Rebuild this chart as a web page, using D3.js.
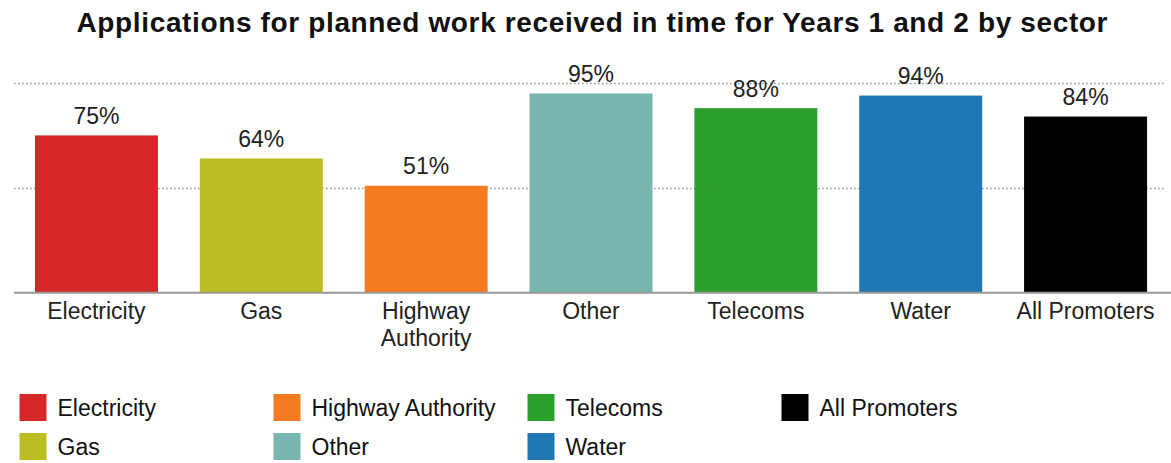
<!DOCTYPE html>
<html>
<head>
<meta charset="utf-8">
<script src="https://cdn.jsdelivr.net/npm/d3@7/dist/d3.min.js"></script>
<style>
  html, body { margin: 0; padding: 0; background: #fff; }
  svg { display: block; font-family: "Liberation Sans", Arial, sans-serif; }
</style>
</head>
<body>
<div id="chart"></div>
<script>
// Sectors and share of planned-work applications received in time (%)
const categories = ["Electricity", "Gas", "Highway Authority", "Other", "Telecoms", "Water", "All Promoters"];
const axisLabels = [["Electricity"], ["Gas"], ["Highway", "Authority"], ["Other"], ["Telecoms"], ["Water"], ["All Promoters"]];
const values = [75, 64, 51, 95, 88, 94, 84];
const colors = ["#d62728", "#bcbd22", "#f47b20", "#78b6af", "#2ca02c", "#1f77b4", "#000000"];
const gridTicks = [50, 100];
const legendColumns = [["Electricity", "Gas"], ["Highway Authority", "Other"], ["Telecoms", "Water"], ["All Promoters"]];

const W = 1171, H = 463;
const svg = d3.select("#chart").append("svg").attr("width", W).attr("height", H);

const x = d3.scaleBand().domain(categories).range([14, 1168]).paddingInner(0.254).paddingOuter(0.127);
const y = d3.scaleLinear().domain([0, 100]).range([292.7, 83]);
const color = d3.scaleOrdinal().domain(categories).range(colors);

// Title
svg.append("text")
  .attr("x", 592).attr("y", 31.5)
  .attr("text-anchor", "middle")
  .attr("font-size", 28).attr("font-weight", "bold").attr("fill", "#111")
  .attr("textLength", 1031).attr("lengthAdjust", "spacing")
  .text("Applications for planned work received in time for Years 1 and 2 by sector");

// Dotted gridlines
svg.append("g").selectAll("line").data(gridTicks).join("line")
  .attr("x1", 14).attr("x2", 1165)
  .attr("y1", d => Math.round(y(d)) + 0.5).attr("y2", d => Math.round(y(d)) + 0.5)
  .attr("stroke", "#999").attr("stroke-width", 1.6).attr("stroke-dasharray", "1.6,2.4");

// Bars
svg.append("g").selectAll("rect").data(categories).join("rect")
  .attr("x", d => x(d)).attr("width", x.bandwidth())
  .attr("y", (d, i) => y(values[i]))
  .attr("height", (d, i) => y(0) - y(values[i]))
  .attr("fill", d => color(d));

// Value labels
svg.append("g").selectAll("text").data(categories).join("text")
  .attr("x", d => x(d) + x.bandwidth() / 2)
  .attr("y", (d, i) => y(values[i]) - 11.5)
  .attr("text-anchor", "middle").attr("font-size", 23).attr("fill", "#222")
  .text((d, i) => values[i] + "%");

// Baseline axis
const xAxis = d3.axisBottom(x).tickSize(0).tickPadding(0).tickFormat(() => "");
const axisG = svg.append("g").attr("transform", `translate(0,${y(0)})`).call(xAxis);
axisG.select(".domain").attr("d", `M14,0H1171`).attr("stroke", "#999").attr("stroke-width", 2);

// Category labels (multi-line)
const catG = svg.append("g").selectAll("text").data(categories).join("text")
  .attr("x", d => x(d) + x.bandwidth() / 2)
  .attr("y", 319)
  .attr("text-anchor", "middle").attr("font-size", 23).attr("fill", "#222");
catG.each(function(d, i) {
  d3.select(this).selectAll("tspan").data(axisLabels[i]).join("tspan")
    .attr("x", x(d) + x.bandwidth() / 2)
    .attr("dy", (t, j) => j === 0 ? 0 : 27)
    .text(t => t);
});

// Legend
const legend = svg.append("g");
legendColumns.forEach((col, ci) => {
  col.forEach((name, ri) => {
    const g = legend.append("g").attr("transform", `translate(${19.5 + ci * 254},${394 + ri * 39})`);
    g.append("rect").attr("width", 27).attr("height", 27).attr("fill", color(name));
    g.append("text").attr("x", 38).attr("y", 21.5)
      .attr("font-size", 23).attr("fill", "#111").text(name);
  });
});
</script>
</body>
</html>
